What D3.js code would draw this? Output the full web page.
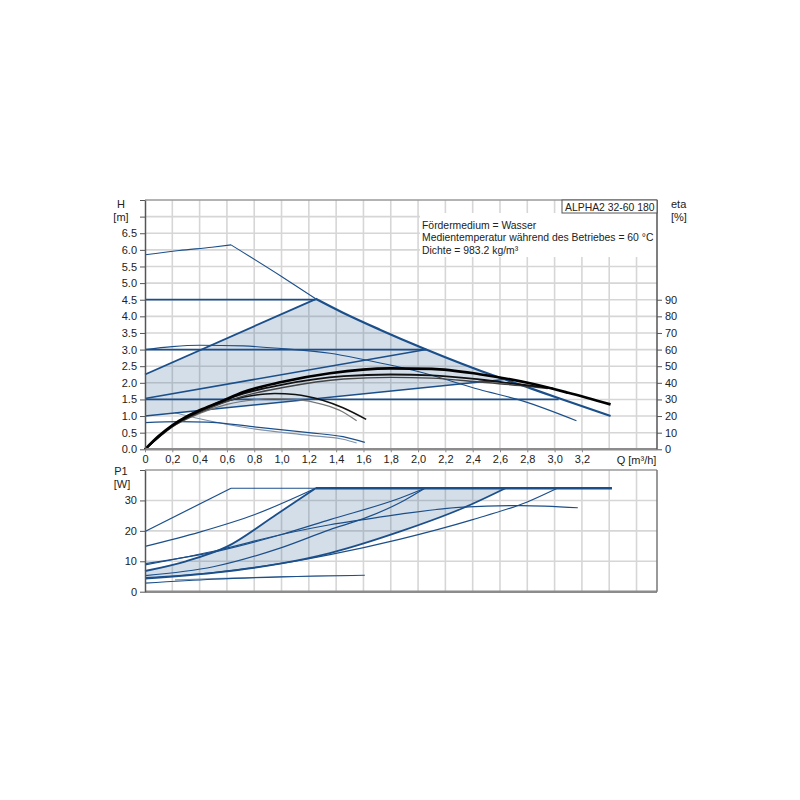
<!DOCTYPE html>
<html>
<head>
<meta charset="utf-8">
<script src="https://cdn.jsdelivr.net/npm/d3@7"></script>
<style>
  body { margin: 0; background: #fff; }
  svg { display: block; font-family: "Liberation Sans", Arial, sans-serif; }
  .axis text { font-size: 11px; fill: #222; }
</style>
</head>
<body>
<div id="chart"></div>
<script>
// ALPHA2 32-60 180 — Kennlinien (H / eta oben, P1 unten)

// Achsen
const qTicks   = [0, 0.2, 0.4, 0.6, 0.8, 1.0, 1.2, 1.4, 1.6, 1.8, 2.0, 2.2, 2.4, 2.6, 2.8, 3.0, 3.2];
const hTicks   = [0, 0.5, 1.0, 1.5, 2.0, 2.5, 3.0, 3.5, 4.0, 4.5, 5.0, 5.5, 6.0, 6.5];
const etaTicks = [0, 10, 20, 30, 40, 50, 60, 70, 80, 90];
const pTicks   = [0, 10, 20, 30];

// Förderhöhe H [m] über Q [m³/h]
const maxRise = [[0, 5.85], [0.25, 5.98], [0.49, 6.08], [0.63, 6.15]];
const maxFall = [[0.63, 6.15], [1.0, 5.2], [1.25, 4.53], [1.45, 4.11], [1.72, 3.6],
                 [2.05, 3.02], [2.6, 2.15], [2.82, 1.84], [3.0, 1.58], [3.41, 1.0]];
const cp45   = [[0, 4.5], [1.25, 4.5]];
const cp30   = [[0, 3.0], [2.06, 3.0]];
const cp15   = [[0, 1.5], [3.03, 1.5]];
const ppTop  = [[0, 2.25], [1.25, 4.52]];
const ppMid  = [[0, 1.53], [2.06, 3.0]];
const ppLow  = [[0, 1.0], [2.63, 2.1]];
const speed3 = [[0, 3.0], [0.2, 3.09], [0.4, 3.13], [0.72, 3.11], [1.0, 3.03], [1.355, 2.89],
                [1.6, 2.7], [2.0, 2.34], [2.45, 1.8], [2.77, 1.45], [3.16, 0.86]];
const speed1  = [[0, 0.8], [0.25, 0.83], [0.45, 0.82], [0.79, 0.68], [1.2, 0.5], [1.45, 0.38], [1.61, 0.21]];
const speed1b = [[0.22, 1.1], [0.4, 0.92], [0.79, 0.62], [1.2, 0.42], [1.45, 0.3], [1.55, 0.19]];

// Wirkungsgrad eta [%]
const etaBig   = [[0, 0], [0.1, 8], [0.2, 14.5], [0.3, 19.5], [0.4, 23.5], [0.55, 28.5], [0.72, 34.5],
                  [1.0, 40.5], [1.355, 45.8], [1.8, 48.7], [2.1, 48.4], [2.45, 45.2], [2.82, 39.7],
                  [3.1, 34], [3.41, 27]];
const etaMid   = [[0, 0], [0.2, 14], [0.4, 23], [0.72, 33.5], [1.0, 38.8], [1.455, 44], [1.8, 45],
                  [2.1, 44.5], [2.45, 42], [2.75, 39], [2.99, 36.7]];
const etaMid2  = [[0, 0], [0.2, 13.5], [0.4, 22], [0.72, 32], [1.0, 37], [1.455, 42.3], [1.8, 43.3],
                  [2.1, 42.8], [2.45, 40.5], [2.75, 38.3], [2.95, 36.5]];
const etaSmall = [[0, 0], [0.2, 14], [0.4, 22.5], [0.6, 29], [0.8, 32.5], [0.95, 33.5], [1.1, 33],
                  [1.3, 29.5], [1.45, 25], [1.62, 18]];
const etaSmall2 = [[0, 0], [0.2, 13.5], [0.4, 21.5], [0.6, 27], [0.8, 29.8], [0.95, 30.5], [1.1, 30],
                   [1.3, 27], [1.45, 22.5], [1.55, 17.2]];

// Leistungsaufnahme P1 [W]
const pMaxRise = [[0, 19.8], [0.63, 34]];
const pMaxFlat = [[0.63, 34], [3.42, 34]];
const pCp45    = [[0, 14.9], [0.4, 19.6], [0.8, 25.3], [1.25, 34]];
const pPpTop   = [[0, 6.8], [0.3, 10], [0.6, 14.8], [0.96, 25.3], [1.25, 34]];
const pCp30    = [[0, 9.2], [0.55, 13.5], [1.0, 18.8], [1.355, 23.7], [1.87, 30.8], [2.05, 34]];
const pSpeed3  = [[0, 8.8], [0.55, 13.8], [1.0, 18.8], [1.355, 22], [1.6, 23.7], [1.87, 25.5],
                  [2.33, 27.8], [2.75, 28.3], [3.17, 27.6]];
const pPpMid   = [[0, 5.3], [0.5, 8.2], [1.0, 14.5], [1.355, 20.4], [1.6, 24], [1.87, 29.3], [2.05, 34]];
const pCp15    = [[0, 4.6], [0.5, 6.3], [1.0, 9.3], [1.355, 12.2], [1.87, 17.3], [2.4, 23.7], [2.8, 29.5], [3.02, 34]];
const pPpLow   = [[0, 4.3], [0.5, 6.2], [1.0, 9.3], [1.355, 12.7], [1.87, 19.8], [2.33, 27.5], [2.64, 34]];
const pSpeed1  = [[0, 2.8], [0.5, 4.1], [1.0, 4.9], [1.61, 5.4]];
const pSpeed1b = [[0.22, 3.9], [0.5, 4.3], [1.0, 4.9], [1.55, 5.3]];

const BLUE = "#1b4f8a";
const BLUE_LIGHT = "#7d93ae";
const FILL = "rgba(40, 90, 145, 0.2)";

const svg = d3.select("#chart").append("svg")
  .attr("width", 800).attr("height", 800);

const x    = d3.scaleLinear().domain([0, 3.75]).range([145, 657]);
const yH   = d3.scaleLinear().domain([0, 7.5]).range([449.3, 200]);
const yEta = d3.scaleLinear().domain([0, 150]).range([449.3, 200]);
const yP   = d3.scaleLinear().domain([0, 40]).range([591.7, 470]);

const gridQ = d3.range(1, 19).map(i => +(i * 0.2).toFixed(1));

// Gitter oben
const gTop = svg.append("g");
gTop.selectAll("line.v").data(gridQ).join("line")
  .attr("x1", d => x(d)).attr("x2", d => x(d))
  .attr("y1", yH(0)).attr("y2", yH(7.5))
  .attr("stroke", "#d6d6d6").attr("stroke-width", 1.6);
gTop.selectAll("line.h").data(d3.range(1, 15).map(i => i * 0.5)).join("line")
  .attr("x1", x(0)).attr("x2", x(3.75))
  .attr("y1", d => yH(d)).attr("y2", d => yH(d))
  .attr("stroke", "#d6d6d6").attr("stroke-width", 1.6);

// Gitter unten
const gBot = svg.append("g");
gBot.selectAll("line.v").data(gridQ).join("line")
  .attr("x1", d => x(d)).attr("x2", d => x(d))
  .attr("y1", yP(0)).attr("y2", yP(40))
  .attr("stroke", "#d6d6d6").attr("stroke-width", 1.6);
gBot.selectAll("line.h").data([10, 20, 30]).join("line")
  .attr("x1", x(0)).attr("x2", x(3.75))
  .attr("y1", d => yP(d)).attr("y2", d => yP(d))
  .attr("stroke", "#d6d6d6").attr("stroke-width", 1.6);

// Textfeld (weisser Hintergrund)
svg.append("rect").attr("x", 420).attr("y", 213).attr("width", 237).attr("height", 44).attr("fill", "#fff");

function lineGen(yScale, curve) {
  return d3.line().x(d => x(d[0])).y(d => yScale(d[1])).curve(curve || d3.curveMonotoneX);
}

function draw(data, yScale, color, width, curve) {
  svg.append("path")
    .attr("d", lineGen(yScale, curve)(data))
    .attr("fill", "none")
    .attr("stroke", color)
    .attr("stroke-width", width)
    .attr("stroke-linejoin", "round");
}

// AUTOadapt-Bereich oben
const maxPart = maxFall.filter(d => d[0] > 1.25 && d[0] < 2.63);
const areaTop = [...ppTop, ...maxPart, ...ppLow.slice().reverse()];
svg.append("path")
  .attr("d", lineGen(yH, d3.curveLinear)(areaTop) + "Z")
  .attr("fill", FILL);

// AUTOadapt-Bereich unten
const areaBot = [...pPpTop, [2.64, 34], ...pPpLow.slice().reverse()];
svg.append("path")
  .attr("d", lineGen(yP, d3.curveLinear)(areaBot) + "Z")
  .attr("fill", FILL);

// H-Kurven
draw(maxRise, yH, BLUE, 1.1);
draw(maxFall.filter(d => d[0] <= 1.25), yH, BLUE, 1.1);
draw(maxFall.filter(d => d[0] >= 1.25), yH, BLUE, 2.2);
draw(speed3, yH, BLUE, 1.1);
draw(speed1b, yH, BLUE_LIGHT, 1.1);
draw(speed1, yH, BLUE, 1.2);
draw(cp45, yH, BLUE, 1.8, d3.curveLinear);
draw(cp30, yH, BLUE, 1.8, d3.curveLinear);
draw(cp15, yH, BLUE, 1.8, d3.curveLinear);
draw(ppTop, yH, BLUE, 1.8, d3.curveLinear);
draw(ppMid, yH, BLUE, 1.6, d3.curveLinear);
draw(ppLow, yH, BLUE, 1.6, d3.curveLinear);

// eta-Kurven
draw(etaSmall2, yEta, "#777", 1.2);
draw(etaSmall, yEta, "#111", 1.5);
draw(etaMid2, yEta, "#444", 1.4);
draw(etaMid, yEta, "#111", 1.8);
draw(etaBig, yEta, "#000", 2.6);

// P1-Kurven
draw(pMaxRise, yP, BLUE, 1.2, d3.curveLinear);
draw(pMaxFlat, yP, BLUE, 1.2, d3.curveLinear);
draw([[1.25, 34], [3.42, 34]], yP, BLUE, 2.4, d3.curveLinear);
draw(pCp45, yP, BLUE, 1.2);
draw(pPpTop, yP, BLUE, 1.8);
draw(pCp30, yP, BLUE, 1.2);
draw(pSpeed3, yP, BLUE, 1.2);
draw(pPpMid, yP, BLUE, 1.2);
draw(pCp15, yP, BLUE, 1.2);
draw(pPpLow, yP, BLUE, 1.8);
draw(pSpeed1b, yP, BLUE_LIGHT, 1.1);
draw(pSpeed1, yP, BLUE, 1.2);

// Rahmen
svg.append("line").attr("x1", x(0)).attr("x2", x(3.75)).attr("y1", yH(7.5)).attr("y2", yH(7.5))
  .attr("stroke", "#9a9a9a").attr("stroke-width", 1.5);
svg.append("line").attr("x1", x(0)).attr("x2", x(3.75)).attr("y1", yP(40)).attr("y2", yP(40))
  .attr("stroke", "#9a9a9a").attr("stroke-width", 1.5);
svg.append("line").attr("x1", x(0)).attr("x2", x(3.75)).attr("y1", yH(0)).attr("y2", yH(0))
  .attr("stroke", "#8c8c8c").attr("stroke-width", 2.5);
svg.append("line").attr("x1", x(0)).attr("x2", x(3.75)).attr("y1", yP(0)).attr("y2", yP(0))
  .attr("stroke", "#8c8c8c").attr("stroke-width", 2.5);
svg.append("line").attr("x1", x(3.75)).attr("x2", x(3.75)).attr("y1", yP(0)).attr("y2", yP(40))
  .attr("stroke", "#777").attr("stroke-width", 1.5);

function styleAxis(g) {
  g.select(".domain").attr("stroke", "#555").attr("stroke-width", 1.5);
  g.selectAll(".tick line").attr("stroke", "#555");
}

// linke Achse H
svg.append("g").attr("class", "axis")
  .attr("transform", `translate(${x(0)},0)`)
  .call(d3.axisLeft(yH).tickValues(d3.range(0, 16).map(i => i * 0.5)).tickSize(5).tickSizeOuter(0)
    .tickPadding(3)
    .tickFormat(d => hTicks.includes(d) ? d.toFixed(1) : ""))
  .call(styleAxis);

// rechte Achse eta
svg.append("g").attr("class", "axis")
  .attr("transform", `translate(${x(3.75)},0)`)
  .call(d3.axisRight(yEta).tickValues(etaTicks).tickSize(5).tickSizeOuter(0).tickPadding(3))
  .call(g => g.select(".domain").attr("d", `M0,${yEta(150)}V${yEta(0)}`))
  .call(styleAxis);

// Q-Achse
const xAxis = svg.append("g").attr("class", "axis")
  .attr("transform", `translate(0,${yH(0)})`)
  .call(d3.axisBottom(x).tickValues(qTicks).tickSize(3).tickSizeOuter(0).tickPadding(3)
    .tickFormat(d => d === 0 ? "0" : d.toFixed(1).replace(".", ",")));
xAxis.select(".domain").remove();
xAxis.selectAll(".tick line").attr("stroke", "#888");
xAxis.append("text").attr("x", x(3.6)).attr("y", 15).attr("text-anchor", "middle")
  .attr("fill", "#222").text("Q [m³/h]");

// linke Achse P1
svg.append("g").attr("class", "axis")
  .attr("transform", `translate(${x(0)},0)`)
  .call(d3.axisLeft(yP).tickValues([0, 10, 20, 30, 40]).tickSize(5).tickSizeOuter(0).tickPadding(3)
    .tickFormat(d => pTicks.includes(d) ? d : ""))
  .call(styleAxis);

// Achsentitel
const labels = [
  ["H", 121, 208, "middle"], ["[m]", 121, 221, "middle"],
  ["eta", 671, 208, "start"], ["[%]", 671, 221, "start"],
  ["P1", 121, 475, "middle"], ["[W]", 122, 488, "middle"]
];
svg.selectAll("text.lbl").data(labels).join("text")
  .attr("class", "lbl")
  .attr("x", d => d[1]).attr("y", d => d[2]).attr("text-anchor", d => d[3])
  .attr("font-size", 11).attr("fill", "#222").text(d => d[0]);

// Typenbox
svg.append("rect").attr("x", 562).attr("y", 200).attr("width", 95).attr("height", 13)
  .attr("fill", "#fff").attr("stroke", "#555").attr("stroke-width", 1);
svg.append("text").attr("x", 565).attr("y", 210.5).attr("font-size", 10.4).attr("fill", "#222")
  .text("ALPHA2 32-60 180");

const notes = ["Fördermedium = Wasser", "Medientemperatur während des Betriebes = 60 °C", "Dichte = 983.2 kg/m³"];
svg.selectAll("text.note").data(notes).join("text")
  .attr("class", "note")
  .attr("x", 422).attr("y", (d, i) => 229 + i * 12.3)
  .attr("font-size", 10.4).attr("fill", "#222").text(d => d);
</script>
</body>
</html>
